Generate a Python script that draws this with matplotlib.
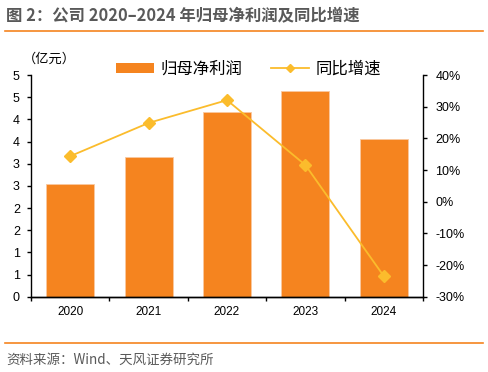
import numpy as np
import matplotlib
matplotlib.use("Agg")
import matplotlib.pyplot as plt
from matplotlib.lines import Line2D
from matplotlib.patches import Patch

plt.rcParams['font.family'] = ['Liberation Sans', 'Noto Sans CJK SC', 'DejaVu Sans']

# data
years = ['2020', '2021', '2022', '2023', '2024']
profit = [2.54, 3.15, 4.17, 4.64, 3.56]      # 亿元
growth = [14.4, 24.9, 32.1, 11.6, -23.5]     # %
left_ticks = [0, 0.5, 1, 1.5, 2, 2.5, 3, 3.5, 4, 4.5, 5]
left_labels = ['0', '1', '1', '2', '2', '3', '3', '4', '4', '5', '5']
right_ticks = [-30, -20, -10, 0, 10, 20, 30, 40]

bar_color = '#F5841F'
line_color = '#FBBC2C'
text_gray = '#595959'

fig = plt.figure(figsize=(4.88, 3.72), dpi=100)
ax = fig.add_axes([0.0635, 0.2024, 0.8033, 0.5956])
ax2 = ax.twinx()

x = np.arange(len(years))
ax.bar(x, profit, width=0.61, color=bar_color, edgecolor='#F9C9A0', linewidth=0.6, zorder=2)
ax.set_xlim(-0.5, len(years) - 0.5)
ax.set_ylim(0, 5)
ax.set_yticks(left_ticks)
ax.set_yticklabels(left_labels)

ax2.plot(x, growth, color=line_color, lw=1.3, marker='D', ms=6, zorder=3)
ax2.set_ylim(-30, 40)
ax2.set_yticks(right_ticks)
ax2.set_yticklabels([f'{t}%' for t in right_ticks])

ax.set_xticks(x)
ax.set_xticklabels(years)
ax.set_xticks(np.arange(-0.5, len(years), 1), minor=True)
ax.tick_params(axis='x', which='major', length=0, pad=7, labelsize=8.5)
ax.tick_params(axis='x', which='minor', length=3, width=1)
ax.tick_params(axis='y', length=3, width=1, labelsize=9, pad=5)
ax2.tick_params(axis='y', length=3, width=1, labelsize=9, pad=6)

for a in (ax, ax2):
    a.spines['top'].set_visible(False)
    for s in a.spines.values():
        s.set_linewidth(1)
ax.spines['right'].set_visible(False)
ax2.spines['left'].set_visible(False)

ax.set_zorder(ax2.get_zorder() - 1)
ax2.patch.set_visible(False)

ax.text(-0.02, 1.07, '（亿元）', transform=ax.transAxes, fontsize=9.5,
        family=['Noto Sans CJK SC'], ha='left', va='center')

handles = [Patch(facecolor=bar_color, edgecolor='none'),
           Line2D([0], [0], color=line_color, lw=1.3, marker='D', ms=4)]
fig.legend(handles, ['归母净利润', '同比增速'], loc='center', bbox_to_anchor=(0.51, 0.814),
           ncol=2, frameon=False, handlelength=2.3, handleheight=0.5,
           columnspacing=1.75, handletextpad=0.42,
           prop={'family': ['Noto Sans CJK SC'], 'size': 11.8})

fig.text(0.012, 0.958, '图 2：公司 2020–2024 年归母净利润及同比增速', fontsize=11.8,
         fontweight='bold', color=text_gray, family=['Noto Sans CJK SC'], ha='left', va='center')
fig.add_artist(Line2D([0.01, 0.99], [0.918, 0.918], color=bar_color, lw=1.2))
fig.add_artist(Line2D([0.01, 0.99], [0.079, 0.079], color=bar_color, lw=1.2))
fig.text(0.012, 0.032, '资料来源：Wind、天风证券研究所', fontsize=9.7, color=text_gray,
         family=['Noto Sans CJK SC', 'Liberation Sans'], ha='left', va='center')

fig.savefig('out.png', dpi=100)
